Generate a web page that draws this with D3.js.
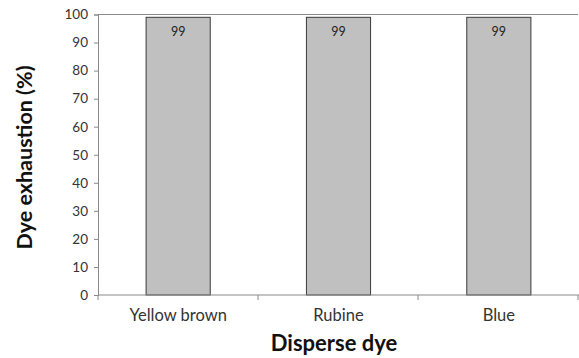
<!DOCTYPE html>
<html><head><meta charset="utf-8">
<script src="https://cdn.jsdelivr.net/npm/d3@7"></script>
<style>body{margin:0;background:#fff}svg{display:block}</style>
</head><body>
<svg id="c" width="579" height="358"></svg>
<script>
const categories = ["Yellow brown", "Rubine", "Blue"];
const values = [99, 99, 99];
const yTicks = [0, 10, 20, 30, 40, 50, 60, 70, 80, 90, 100];
const xTitle = "Disperse dye";
const yTitle = "Dye exhaustion (%)";

const svg = d3.select("#c");
const L = 98, R = 579, T = 14.5, B = 295;
const font = "Lato, sans-serif";

const x = d3.scaleBand().domain(categories).range([L, R]).paddingInner(0.6).paddingOuter(0.3);
const y = d3.scaleLinear().domain([0, 100]).range([B, T]);

// top border
svg.append("line").attr("x1", L).attr("x2", 578).attr("y1", y(100)).attr("y2", y(100))
  .attr("stroke", "#8a8a8a").attr("stroke-width", 1.2);

// bars
svg.selectAll("rect.bar").data(values).join("rect")
  .attr("class", "bar")
  .attr("x", (d, i) => x(categories[i]))
  .attr("y", d => y(d))
  .attr("width", x.bandwidth())
  .attr("height", d => y(0) - y(d))
  .attr("fill", "#c0c0c0").attr("stroke", "#3a3a3a").attr("stroke-width", 1);

// value labels
svg.selectAll("text.val").data(values).join("text")
  .attr("class", "val")
  .attr("x", (d, i) => x(categories[i]) + x.bandwidth() / 2)
  .attr("y", d => y(d) + 19)
  .attr("text-anchor", "middle")
  .attr("font-family", font).attr("font-size", 12.5).attr("fill", "#222")
  .text(d => d);

// y axis
const yAxis = d3.axisLeft(y).tickValues(yTicks).tickSize(4).tickPadding(6);
const gy = svg.append("g").attr("transform", `translate(${L},0)`).call(yAxis);
gy.select(".domain").attr("stroke", "#8a8a8a");
gy.selectAll(".tick line").attr("stroke", "#8a8a8a");
gy.selectAll(".tick text").attr("font-family", font).attr("font-size", 13.5).attr("fill", "#333");

// x axis
const xPos = d3.scalePoint().domain(d3.range(categories.length + 1)).range([L, R - 1]);
svg.append("line").attr("x1", L).attr("x2", R).attr("y1", B).attr("y2", B)
  .attr("stroke", "#8a8a8a").attr("stroke-width", 1.2);
svg.selectAll("line.xt").data(d3.range(categories.length + 1)).join("line")
  .attr("class", "xt")
  .attr("x1", d => xPos(d)).attr("x2", d => xPos(d))
  .attr("y1", B).attr("y2", B + 5).attr("stroke", "#8a8a8a");
svg.selectAll("text.xl").data(categories).join("text")
  .attr("class", "xl")
  .attr("x", d => x(d) + x.bandwidth() / 2)
  .attr("y", 321)
  .attr("text-anchor", "middle")
  .attr("font-family", font).attr("font-size", 16.5).attr("fill", "#333")
  .text(d => d);

// titles
svg.append("text").attr("x", 334).attr("y", 350.5)
  .attr("text-anchor", "middle").attr("font-family", font).attr("font-weight", "bold")
  .attr("font-size", 22).attr("fill", "#111").text(xTitle);
svg.append("text").attr("transform", `translate(32,157.5) rotate(-90)`)
  .attr("text-anchor", "middle").attr("font-family", font).attr("font-weight", "bold")
  .attr("font-size", 21.5).attr("fill", "#111").text(yTitle);
</script>
</body></html>
